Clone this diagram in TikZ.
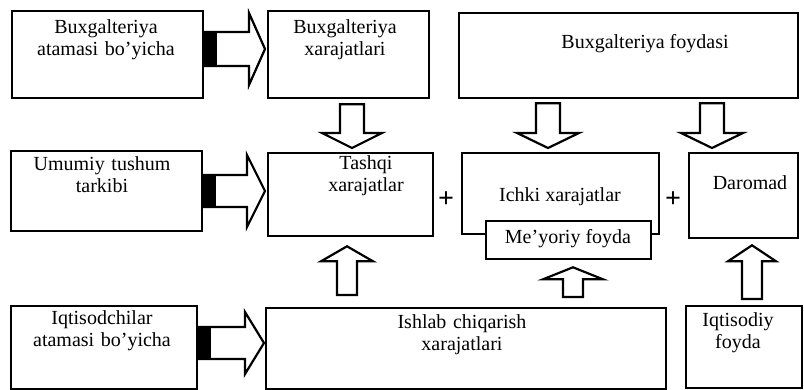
\documentclass[tikz,border=0pt]{standalone}
\usepackage{fontspec}
\setmainfont{Liberation Serif}
\usetikzlibrary{calc}
\tikzset{
    box/.style={draw, line width=2.3pt, fill=white, anchor=north west, inner sep=0pt},
    txt/.style={align=center, inner sep=0pt, font=\fontsize{20}{22}\selectfont},
    plus/.style={inner sep=0pt, font=\fontsize{28}{28}\selectfont\bfseries},
    blockarr/.style={draw, line width=2.2pt, fill=white, line join=miter}
}
% box from (x1,y1) to (x2,y2), y going down
\newcommand{\boxat}[5]{\node[box, minimum width=#4-#2, minimum height=#5-#3] (#1) at (#2,#3) {};}
% vertical block arrow: tail, tip, head offset, shaft half, head half
\newcommand{\vblock}[5]{\draw[blockarr] ($(#1)+(-#4,0)$) -- ($(#2)+(-#4,#3)$) -- ($(#2)+(-#5,#3)$) -- (#2)
    -- ($(#2)+(#5,#3)$) -- ($(#2)+(#4,#3)$) -- ($(#1)+(#4,0)$) -- cycle;}
% horizontal block arrow with black tail: tail, tip, shaft half, head half, head length
\newcommand{\hblock}[5]{\draw[blockarr] ($(#1)+(0,-#3)$) -- ($(#2)+(-#5,-#3)$) -- ($(#2)+(-#5,-#4)$) -- (#2)
    -- ($(#2)+(-#5,#4)$) -- ($(#2)+(-#5,#3)$) -- ($(#1)+(0,#3)$) -- cycle;
    \fill ($(#1)+(0,-#3)$) rectangle ($(#1)+(13,#3)$);}

\begin{document}
\begin{tikzpicture}[x=1pt, y=-1pt]
    \useasboundingbox (0,0) rectangle (804,390);

    % Draw boxes
    \boxat{a1}{11}{10}{202}{97}
    \boxat{b1}{267}{10}{428}{97}
    \boxat{c1}{458}{12}{797}{97}
    \boxat{a2}{10}{150}{201}{230}
    \boxat{t2}{267}{152}{432}{235}
    \boxat{i2}{461}{152}{658}{233}
    \boxat{m2}{485}{220}{650}{258}
    \boxat{d2}{688}{152}{797}{237}
    \boxat{a3}{10}{305}{196}{388}
    \boxat{p3}{265}{307}{665}{388}
    \boxat{e3}{685}{305}{801}{387}

    % Draw texts
    \node[txt, text width=170] (a1t) at (106,40) {Buxgalteriya\\atamasi bo'yicha};
    \node[txt, text width=150] (b1t) at (345,40) {Buxgalteriya\\xarajatlari};
    \node[txt] (c1t) at (645,44) {Buxgalteriya foydasi};
    \node[txt, text width=170] (a2t) at (102,175) {Umumiy tushum\\tarkibi};
    \node[txt, text width=150] (t2t) at (366,176) {Tashqi\\xarajatlar};
    \node[txt] (i2t) at (560,197) {Ichki xarajatlar};
    \node[txt] (m2t) at (568,239) {Me'yoriy foyda};
    \node[txt] (d2t) at (750,183) {Daromad};
    \node[txt, text width=170] (a3t) at (102,331) {Iqtisodchilar\\atamasi bo'yicha};
    \node[txt, text width=200] (p3t) at (462,335) {Ishlab chiqarish\\xarajatlari};
    \node[txt, text width=110] (e3t) at (738,333) {Iqtisodiy\\foyda};
    \node[plus] (p1) at (446,200) {+};
    \node[plus] (p2) at (673,200) {+};

    % Draw horizontal arrows
    \coordinate (h1s) at (a1.east |- 0,49);
    \coordinate (h1e) at ([xshift=-2pt]b1.west |- 0,49);
    \coordinate (h2s) at (a2.east |- 0,191);
    \coordinate (h2e) at ([xshift=-2pt]t2.west |- 0,191);
    \coordinate (h3s) at (a3.east |- 0,343);
    \coordinate (h3e) at ([xshift=-1pt]p3.west |- 0,343);
    \hblock{h1s}{h1e}{17}{36}{16}
    \hblock{h2s}{h2e}{16}{36}{18}
    \hblock{h3s}{h3e}{16}{31}{19}

    % Draw vertical arrows
    \coordinate (v1s) at ([yshift=-5pt]b1.south -| 352,0);
    \coordinate (v1e) at ([yshift=4pt]t2.north -| 352,0);
    \coordinate (v2s) at ([yshift=-4pt]c1.south -| 548,0);
    \coordinate (v2e) at ([yshift=4pt]i2.north -| 548,0);
    \coordinate (v3s) at ([yshift=-4pt]c1.south -| 712,0);
    \coordinate (v3e) at ([yshift=4pt]d2.north -| 712,0);
    \vblock{v1s}{v1e}{-15}{12}{30}
    \vblock{v2s}{v2e}{-15}{12}{31}
    \vblock{v3s}{v3e}{-15}{12}{31}

    \coordinate (u1s) at ([yshift=12pt]p3.north -| 347,0);
    \coordinate (u1e) at ([yshift=-9pt]t2.south -| 347,0);
    \coordinate (u2s) at ([yshift=10pt]p3.north -| 573,0);
    \coordinate (u2e) at ([yshift=-7pt]m2.south -| 573,0);
    \coordinate (u3s) at ([yshift=6pt]e3.north -| 752,0);
    \coordinate (u3e) at ([yshift=-6pt]d2.south -| 752,0);
    \vblock{u1s}{u1e}{15}{10}{26}
    \vblock{u2s}{u2e}{12}{10}{30}
    \vblock{u3s}{u3e}{16}{10}{24}
\end{tikzpicture}
\end{document}
